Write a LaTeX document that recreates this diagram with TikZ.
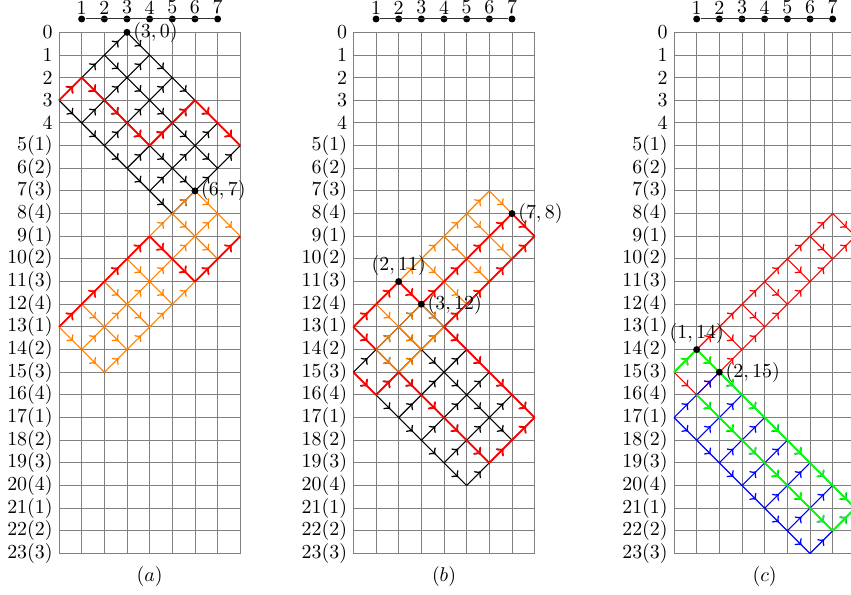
\documentclass[tikz,border=0pt]{standalone}
\usetikzlibrary{decorations.markings}

% malla: estilo, columna y fila de la esquina izquierda, pasos hacia arriba, pasos hacia abajo
\newcommand{\malla}[5]{%
  \foreach \i in {0,...,#4}{%
    \foreach \j in {0,...,#5}{%
      \pgfmathsetmacro{\mx}{#2+\i+\j}%
      \pgfmathsetmacro{\my}{-#3+\i-\j}%
      \ifnum\i<#4 \draw[#1] (\mx,\my) -- ++(1,1);\fi
      \ifnum\j<#5 \draw[#1] (\mx,\my) -- ++(1,-1);\fi
    }%
  }%
}

% camino: estilo, columna inicial, filas
\newcommand{\camino}[3]{%
  \foreach \r [count=\k from 0,remember=\r as \rr (initially 0)] in {#3}{%
    \ifnum\k>0
      \pgfmathsetmacro{\mx}{#2+\k-1}%
      \draw[#1] (\mx,-\rr) -- ++(1,\rr-\r);%
    \fi
  }%
}

% tablero: rejilla, filas, escala y leyenda
\newcommand{\tablero}[1]{%
  \draw[rejilla] (0,0) grid (8,-23);
  \foreach \r in {0,...,23}{%
    \ifnum\r<5
      \node[fila] (#1-f\r) at (0,-\r) {\r};
    \else
      \pgfmathtruncatemacro{\q}{mod(\r-5,4)+1}%
      \node[fila] (#1-f\r) at (0,-\r) {\r(\q)};
    \fi
  }
  \foreach \c in {1,...,7}
    \node[punto,label={[inner sep=0.2pt]above:\c}] (#1-e\c) at (\c,0.587) {};
  \draw[escala] (#1-e1) -- (#1-e7);
  \node (#1-ley) at (4,-24.02) {$(#1)$};
}

\begin{document}
\begin{tikzpicture}[x=0.4cm,y=0.4cm,
   rejilla/.style={gray,line width=0.45pt,step=1},
   escala/.style={black!80,line width=0.5pt},
   flecha/.style={postaction={decorate},
     decoration={markings,mark=at position 0.62 with {\arrow[line width=#1]{to}}}},
   fina/.style={line width=0.55pt,flecha=0.8pt},
   gruesa/.style={line width=0.9pt,flecha=1pt},
   punto/.style={circle,fill=black,inner sep=0pt,minimum size=3.5pt},
   fila/.style={anchor=east,inner sep=3pt},
   marca/.style={inner sep=1pt}]

  \useasboundingbox (-2.604,1.425) rectangle (34.95,-24.79);
  \clip (-2.604,1.425) rectangle (34.95,-24.79);

  % --- (a) ---
  \begin{scope}
    \tablero{a}
    \malla{black,fina}{0}{3}{3}{5}
    \malla{orange,fina}{0}{13}{6}{2}
    \camino{red,gruesa}{0}{3,2,3,4,5,4,3,4,5}
    \camino{red,gruesa}{0}{13,12,11,10,9,10,11,10,9}
    \node[punto,label={[marca]right:$(3,0)$}] (a-p1) at (3,0) {};
    \node[punto,label={[marca]right:$(6,7)$}] (a-p2) at (6,-7) {};
  \end{scope}

  % --- (b) ---
  \begin{scope}[shift={(12.99,0)}]
    \tablero{b}
    \malla{black,fina}{0}{15}{3}{5}
    \malla{orange,fina}{0}{13}{6}{2}
    \camino{red,gruesa}{0}{13,12,11,12,11,10,9,8,9}
    \camino{red,gruesa}{0}{15,16,15,16,17,18,19,18,17}
    \camino{red,gruesa}{4}{13,12,11,10,9}
    \camino{red,gruesa}{4}{13,14,15,16,17}
    \camino{red,gruesa}{0}{13,14}
    \node[punto,label={[marca]right:$(7,8)$}] (b-p1) at (7,-8) {};
    \node[punto,label={[marca]above:$(2,11)$}] (b-p2) at (2,-11) {};
    \node[punto,label={[marca]right:$(3,12)$}] (b-p3) at (3,-12) {};
  \end{scope}

  % --- (c) ---
  \begin{scope}[shift={(27.14,0)}]
    \tablero{c}
    \malla{red,fina}{0}{15}{7}{1}
    \malla{blue,fina}{0}{17}{2}{6}
    \camino{green,gruesa}{0}{15,14,15,16,17,18,19,20,21}
    \camino{green,gruesa}{1}{16,17,18,19,20,21,22,21}
    \node[punto,label={[marca]above:$(1,14)$}] (c-p1) at (1,-14) {};
    \node[punto,label={[marca]right:$(2,15)$}] (c-p2) at (2,-15) {};
  \end{scope}
\end{tikzpicture}
\end{document}
